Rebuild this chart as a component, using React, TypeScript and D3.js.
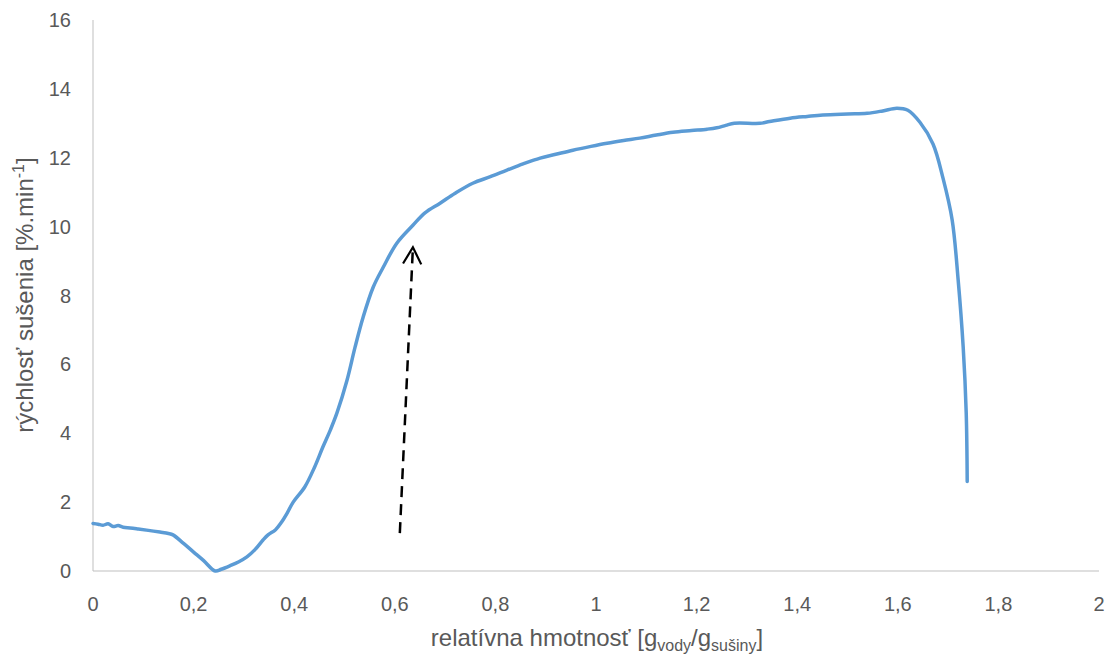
import React from "react";
import * as d3 from "d3";

const xTicks = [0, 0.2, 0.4, 0.6, 0.8, 1, 1.2, 1.4, 1.6, 1.8, 2];
const yTicks = [0, 2, 4, 6, 8, 10, 12, 14, 16];

const curveX = [
  0, 0.01, 0.02, 0.03, 0.04, 0.05, 0.06, 0.074, 0.09, 0.11, 0.133, 0.15, 0.159,
  0.18, 0.2, 0.22, 0.243, 0.255, 0.272, 0.29, 0.306, 0.322, 0.338, 0.348, 0.363,
  0.375, 0.386, 0.398, 0.421, 0.44, 0.457, 0.472, 0.485, 0.505, 0.521, 0.537,
  0.557, 0.577, 0.604, 0.636, 0.66, 0.69, 0.72, 0.755, 0.79, 0.823, 0.855, 0.889,
  0.92, 0.954, 0.99, 1.022, 1.055, 1.087, 1.12, 1.153, 1.19, 1.221, 1.24, 1.258,
  1.275, 1.326, 1.345, 1.386, 1.42, 1.451, 1.5, 1.539, 1.57, 1.598, 1.62, 1.644,
  1.67, 1.69, 1.708, 1.72, 1.73, 1.736, 1.738,
];
const curveY = [
  1.38, 1.36, 1.33, 1.37, 1.29, 1.32, 1.27, 1.25, 1.22, 1.18, 1.13, 1.09, 1.05,
  0.8, 0.55, 0.3, 0.0, 0.05, 0.15, 0.27, 0.41, 0.62, 0.9, 1.05, 1.2, 1.42, 1.68,
  2.0, 2.44, 3.0, 3.6, 4.1, 4.59, 5.54, 6.5, 7.37, 8.24, 8.82, 9.52, 10.04,
  10.4, 10.68, 10.97, 11.26, 11.45, 11.64, 11.82, 11.99, 12.1, 12.22, 12.33,
  12.42, 12.5, 12.57, 12.66, 12.74, 12.79, 12.83, 12.87, 12.94, 13.0, 13.0, 13.05,
  13.15, 13.2, 13.24, 13.27, 13.29, 13.36, 13.44, 13.38, 13.03, 12.4, 11.4, 10.2,
  8.45, 6.5, 4.6, 2.6,
];

const arrowFrom = { x: 0.61, y: 1.1 };
const arrowTo = { x: 0.636, y: 9.4 };

const fmt = (v: number) => String(v).replace(".", ",");

export default function App() {
  const W = 1110,
    H = 659;
  const x = d3.scaleLinear().domain([0, 2]).range([93, 1099]);
  const y = d3.scaleLinear().domain([0, 16]).range([571, 20]);
  const pts: [number, number][] = curveX.map((v, i) => [v, curveY[i]]);
  const line = d3
    .line<[number, number]>()
    .x((d) => x(d[0]))
    .y((d) => y(d[1]))
    .curve(d3.curveCatmullRom.alpha(0.5));
  const font = "'Liberation Sans', Arial, sans-serif";
  const textColor = "#595959";

  const ax0 = x(arrowFrom.x), ay0 = y(arrowFrom.y);
  const ax1 = x(arrowTo.x), ay1 = y(arrowTo.y);
  const ang = Math.atan2(ay1 - ay0, ax1 - ax0);
  const hl = 19, ha = 0.5;
  const w1 = [ax1 - hl * Math.cos(ang - ha), ay1 - hl * Math.sin(ang - ha)];
  const w2 = [ax1 - hl * Math.cos(ang + ha), ay1 - hl * Math.sin(ang + ha)];

  return (
    <svg
      width={W}
      height={H}
      style={{ position: "absolute", left: 0, top: 0, background: "#fff" }}
      fontFamily={font}
    >
      <rect width={W} height={H} fill="#fff" />
      <line x1={x(0)} x2={x(0)} y1={y(16)} y2={y(0)} stroke="#bfbfbf" strokeWidth={1} />
      <line x1={x(0)} x2={x(2)} y1={y(0)} y2={y(0)} stroke="#bfbfbf" strokeWidth={1} />
      {yTicks.map((t) => (
        <text key={t} x={71} y={y(t)} dy="0.35em" textAnchor="end" fontSize={20} fill={textColor}>
          {t}
        </text>
      ))}
      {xTicks.map((t) => (
        <text key={t} x={x(t)} y={611} textAnchor="middle" fontSize={20} fill={textColor}>
          {fmt(t)}
        </text>
      ))}
      <path d={line(pts) || ""} fill="none" stroke="#5b9bd5" strokeWidth={3.5} strokeLinejoin="round" strokeLinecap="round" />
      <line x1={ax0} y1={ay0} x2={ax1} y2={ay1} stroke="#000" strokeWidth={2.5} strokeDasharray="11 7" />
      <polyline
        points={`${w1[0]},${w1[1]} ${ax1},${ay1} ${w2[0]},${w2[1]}`}
        fill="none"
        stroke="#000"
        strokeWidth={2.2}
      />
      <text x={597} y={646} textAnchor="middle" fontSize={24} fill={textColor}>
        relatívna hmotnosť [g
        <tspan fontSize={16} dy={5}>vody</tspan>
        <tspan dy={-5}>/g</tspan>
        <tspan fontSize={16} dy={5}>sušiny</tspan>
        <tspan dy={-5}>]</tspan>
      </text>
      <text
        transform={`translate(33, ${295}) rotate(-90)`}
        textAnchor="middle"
        fontSize={24}
        fill={textColor}
      >
        rýchlosť sušenia [%.min
        <tspan fontSize={16} dy={-9}>-1</tspan>
        <tspan dy={9}>]</tspan>
      </text>
    </svg>
  );
}
